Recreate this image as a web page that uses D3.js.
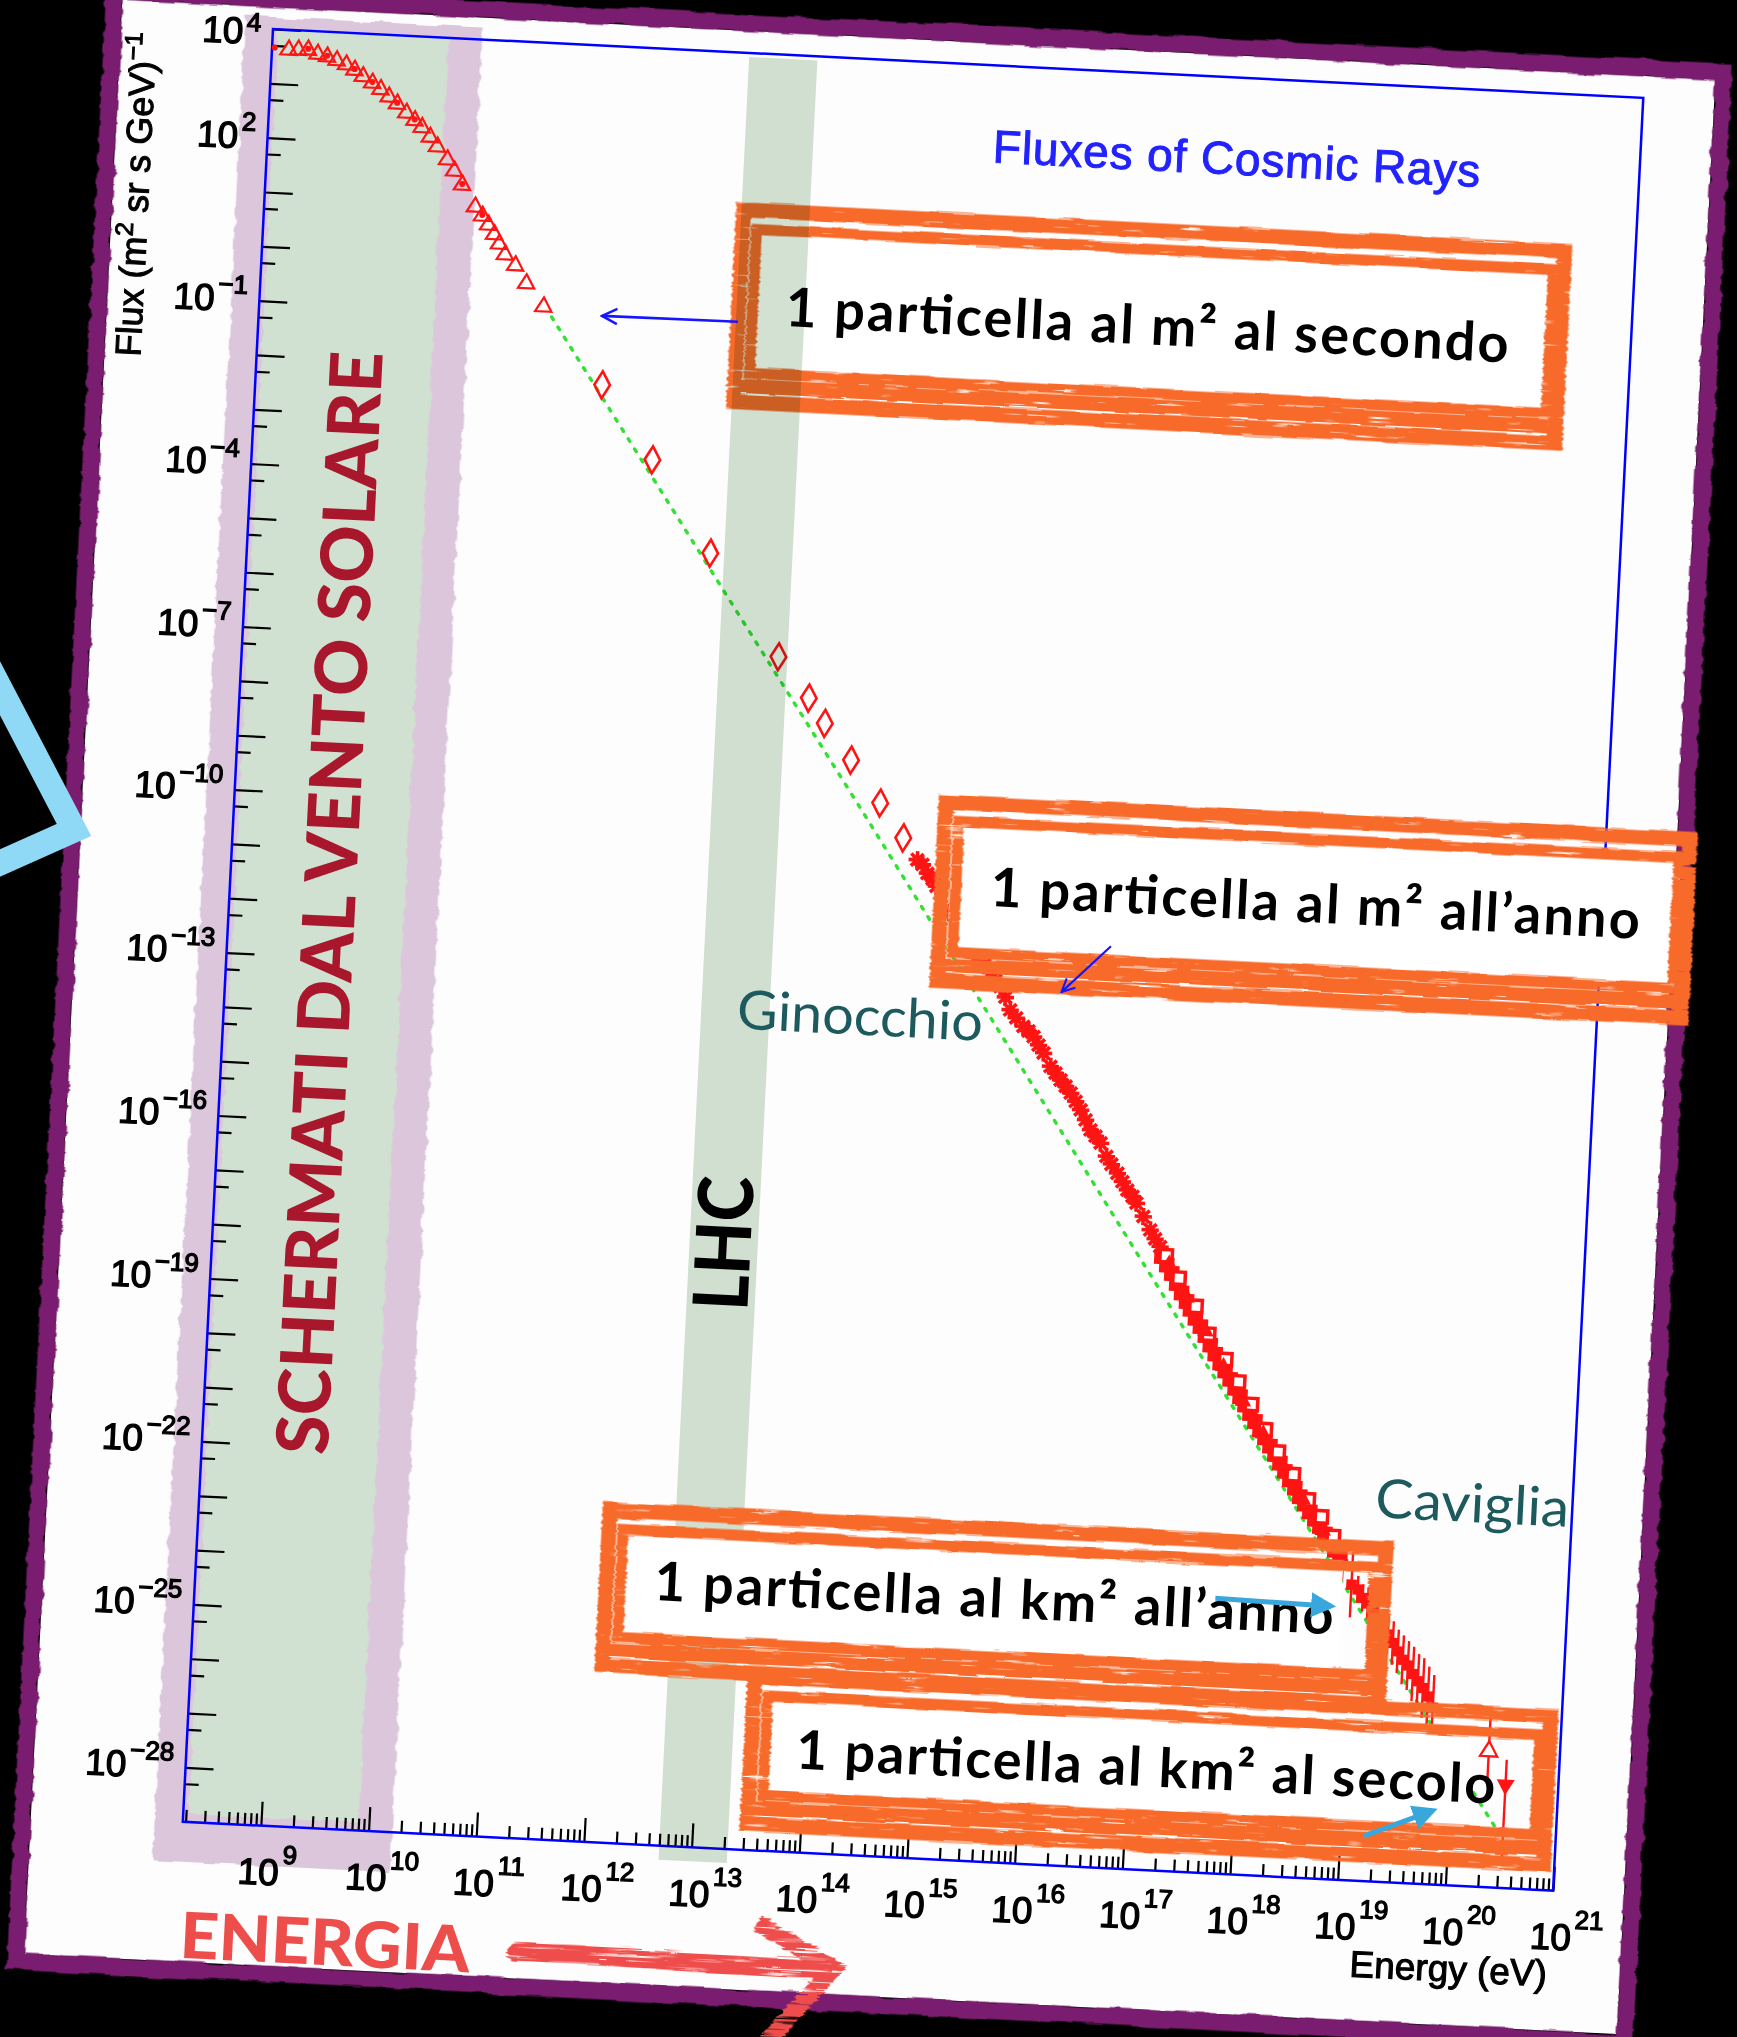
<!DOCTYPE html>
<html><head><meta charset="utf-8">
<script src="https://cdn.jsdelivr.net/npm/d3@7"></script>
<style>
html,body{margin:0;padding:0;background:#000;}
svg{display:block;}
</style></head><body>
<svg id="c" width="1737" height="2037"></svg>
<script>
// ================= DATA (log10 E [eV], log10 Flux) =================
const xDomain = [1.884e8, 1e21];
const yDomain = [1e-29, 1e4];
const yLabelExp = [4, 2, -1, -4, -7, -10, -13, -16, -19, -22, -25, -28];
const xLabelExp = [9, 10, 11, 12, 13, 14, 15, 16, 17, 18, 19, 20, 21];

const triangles = [[8.43,3.63],[8.52,3.64],[8.61,3.65],[8.70,3.58],[8.79,3.54],[8.88,3.48],[8.97,3.41],[9.05,3.32],[9.13,3.21],[9.22,3.10],[9.30,2.99],[9.38,2.86],[9.46,2.74],[9.55,2.58],[9.63,2.45],[9.70,2.33],[9.78,2.16],[9.85,1.99],[9.95,1.76],[10.02,1.56],[10.10,1.31],[10.23,0.92],[10.30,0.76],[10.36,0.60],[10.42,0.43],[10.47,0.26],[10.53,0.07],[10.63,-0.12],[10.74,-0.44],[10.91,-0.85]];
const triDots = [[8.30,3.66],[8.61,3.67],[8.79,3.56],[9.05,3.34],[9.22,3.12],[9.46,2.76],[9.63,2.47],[10.10,1.33],[10.30,0.78]];
const diamonds = [[11.49,-2.23],[11.99,-3.56],[12.57,-5.22],[13.25,-7.06],[13.55,-7.79],[13.71,-8.24],[13.97,-8.89],[14.26,-9.65],[14.49,-10.27]];
const stars = [[14.63,-10.66],[14.68,-10.74],[14.73,-10.90],[14.78,-11.00],[14.82,-11.13],[14.95,-11.60],[15.06,-11.97],[15.15,-12.20],[15.23,-12.38],[15.30,-12.52],[15.36,-12.67],[15.41,-12.80],[15.46,-12.91],[15.51,-13.10],[15.56,-13.33],[15.62,-13.47],[15.69,-13.62],[15.74,-13.70],[15.79,-13.80],[15.84,-13.95],[15.89,-14.09],[15.96,-14.33],[16.01,-14.45],[16.06,-14.57],[16.11,-14.68],[16.16,-14.80],[16.21,-14.95],[16.26,-15.10],[16.31,-15.28],[16.36,-15.46],[16.41,-15.57],[16.46,-15.69],[16.52,-15.93],[16.57,-16.07],[16.63,-16.23],[16.68,-16.38],[16.73,-16.53],[16.78,-16.64],[16.82,-16.76],[16.89,-17.00],[16.96,-17.24],[17.01,-17.40],[17.06,-17.54]];
const bandSquares = [[17.08,-17.72],[17.13,-17.87],[17.18,-18.02],[17.23,-18.20],[17.28,-18.37],[17.33,-18.52],[17.37,-18.66],[17.42,-18.82],[17.47,-18.97],[17.52,-19.13],[17.57,-19.30],[17.62,-19.46],[17.67,-19.62],[17.72,-19.76],[17.77,-19.91],[17.82,-20.07],[17.87,-20.22],[17.92,-20.37],[17.97,-20.52],[18.02,-20.66],[18.07,-20.81],[18.12,-20.95],[18.17,-21.10],[18.22,-21.25],[18.27,-21.40],[18.32,-21.55],[18.37,-21.70],[18.42,-21.85],[18.47,-22.00],[18.52,-22.13],[18.57,-22.27],[18.62,-22.40],[18.67,-22.53],[18.72,-22.66],[18.77,-22.80],[18.82,-22.95],[18.87,-23.10]];
const bandOpen = [[17.12,-17.70],[17.25,-18.10],[17.42,-18.60],[17.55,-19.10],[17.72,-19.55],[17.85,-19.95],[17.98,-20.35],[18.12,-20.80],[18.25,-21.20],[18.40,-21.60],[18.55,-22.05],[18.68,-22.35],[18.80,-22.70]];
const bandDots = [[17.15,-17.85],[17.33,-18.45],[17.52,-19.05],[17.70,-19.68],[17.90,-20.30],[18.10,-20.88],[18.30,-21.45],[18.50,-22.05],[18.70,-22.60]];
// [logE, logF, error (decades)]
const bandErr = [[18.90,-23.20,0.30],[18.99,-23.57,0.60],[19.05,-23.65,0.25],[19.10,-23.80,0.25],[19.15,-23.90,0.30],[19.20,-24.05,0.30],[19.25,-24.20,0.30],[19.30,-24.35,0.35],[19.35,-24.45,0.35],[19.40,-24.60,0.40],[19.45,-24.75,0.40],[19.50,-24.90,0.45],[19.55,-25.00,0.45],[19.60,-25.15,0.50],[19.65,-25.28,0.50],[19.70,-25.40,0.55],[19.75,-25.55,0.55],[19.80,-25.75,0.60]];
// [logE, logF, errUp, errDown]
const uheOpen = [[20.34,-26.50,0.80,0.50]];
const uheFilled = [[20.51,-27.10,0.46,1.40]];
const powerLaw = [[10.99,-1.03],[14.11,-9.85],[16.81,-17.57],[20.48,-28.02]];
const solarLavender = [1.03e8, 1.65e10];
const solarGreen = [2.1e8, 8.0e9];
const lhcBand = [5.0e12, 2.15e13];

// ================= SETUP =================
const ORANGE = '#f76b2b', RED = '#ff1414';
const svg = d3.select('#c');
const defs = svg.append('defs');
function mkFilter(id, freq, scale, seed, gapIntercept) {
  const f = defs.append('filter').attr('id', id).attr('filterUnits','userSpaceOnUse')
    .attr('x',-400).attr('y',-200).attr('width',2400).attr('height',2500);
  f.append('feTurbulence').attr('type','fractalNoise').attr('baseFrequency',freq)
    .attr('numOctaves',2).attr('seed',seed).attr('result','t');
  let src = 'SourceGraphic';
  if (gapIntercept) {
    f.append('feColorMatrix').attr('in','t').attr('type','matrix')
      .attr('values',`0 0 0 0 0  0 0 0 0 0  0 0 0 0 0  -7 0 0 0 ${gapIntercept}`).attr('result','m');
    f.append('feComposite').attr('in','SourceGraphic').attr('in2','m').attr('operator','in').attr('result','s');
    src = 's';
  }
  f.append('feDisplacementMap').attr('in',src).attr('in2','t').attr('scale',scale)
    .attr('xChannelSelector','R').attr('yChannelSelector','G');
}
mkFilter('rough', '0.03 0.09', 7, 4, 0);
mkFilter('brush', '0.012 0.45', 7, 7, 5.0);
mkFilter('frame', '0.02 0.3', 5, 11, 5.9);

svg.append('rect').attr('width',1737).attr('height',2037).attr('fill','#000');

const W = 1372, H = 1795;
const x = d3.scaleLog().domain(xDomain).range([0, W]);
const y = d3.scaleLog().domain(yDomain).range([H, 0]);
const px = e => x(Math.pow(10, e)), py = f => y(Math.pow(10, f));

const g = svg.append('g').attr('transform','translate(273,29) rotate(2.88)');

// paper
g.append('rect').attr('x',-152).attr('y',-22).attr('width',1595).attr('height',1957).attr('fill','#fdfdfd');
g.append('rect').attr('x',-160).attr('y',-30).attr('width',1611).attr('height',1973)
  .attr('fill','none').attr('stroke','#7a1e70').attr('stroke-width',17).attr('filter','url(#rough)');

// solar-wind band
const sb = g.append('g').attr('filter','url(#rough)');
sb.append('rect').attr('x', x(solarLavender[0])).attr('y',-12)
  .attr('width', x(solarLavender[1]) - x(solarLavender[0])).attr('height', H + 52).attr('fill','#dbc6db');
sb.append('rect').attr('x', x(solarGreen[0])).attr('y',0)
  .attr('width', x(solarGreen[1]) - x(solarGreen[0])).attr('height', H - 8).attr('fill','#d1e1d1');

// axes ticks (inward)
const yMajor = d3.range(-28, 5).map(n => Math.pow(10, n));
const yMinor = d3.range(-28, 5).map(n => 5 * Math.pow(10, n - 1));
const xMajor = d3.range(9, 22).map(n => Math.pow(10, n));
const xMinor = [];
for (let n = 8; n <= 20; n++) for (let k = 2; k <= 9; k++) { const v = k * Math.pow(10, n); if (v >= xDomain[0] && v <= xDomain[1]) xMinor.push(v); }
function styleAxis(s){ s.select('.domain').remove(); s.selectAll('line').attr('stroke','#000').attr('stroke-width',2.2); s.selectAll('text').remove(); }
g.append('g').call(d3.axisLeft(y).tickValues(yMajor).tickSize(-28).tickFormat('')).call(styleAxis);
g.append('g').call(d3.axisLeft(y).tickValues(yMinor).tickSize(-14).tickFormat('')).call(styleAxis);
g.append('g').attr('transform',`translate(0,${H})`).call(d3.axisBottom(x).tickValues(xMajor).tickSize(-24).tickFormat('')).call(styleAxis);
g.append('g').attr('transform',`translate(0,${H})`).call(d3.axisBottom(x).tickValues(xMinor).tickSize(-12).tickFormat('')).call(styleAxis);
g.append('rect').attr('width',W).attr('height',H).attr('fill','none').attr('stroke','#0000ff').attr('stroke-width',2.5);

// ================= DATA MARKS =================
const dg = g.append('g');
dg.append('path').datum(powerLaw)
  .attr('d', d3.line().x(d => px(d[0])).y(d => py(d[1])))
  .attr('fill','none').attr('stroke','#33e033').attr('stroke-width',3.4)
  .attr('stroke-dasharray','3 9').attr('stroke-linecap','round');

const tr = d => `translate(${px(d[0])},${py(d[1])})`;
dg.selectAll('.tri').data(triangles).join('path').attr('transform', tr)
  .attr('d', d3.symbol(d3.symbolTriangle, 115)).attr('fill','none').attr('stroke',RED).attr('stroke-width',2.2);
dg.selectAll('.tdot').data(triDots).join('circle').attr('cx', d => px(d[0])).attr('cy', d => py(d[1])).attr('r',3).attr('fill',RED);
dg.selectAll('.dia').data(diamonds).join('path').attr('transform', tr)
  .attr('d', d3.symbol(d3.symbolDiamond, 210)).attr('fill','none').attr('stroke',RED).attr('stroke-width',2.6);

const asterisk = { draw(ctx, size) { const r = Math.sqrt(size) / 2;
  for (let k = 0; k < 4; k++) { const a = k * Math.PI / 4; ctx.moveTo(r*Math.cos(a), r*Math.sin(a)); ctx.lineTo(-r*Math.cos(a), -r*Math.sin(a)); } } };
dg.selectAll('.star').data(stars).join('path').attr('transform', tr)
  .attr('d', d3.symbol(asterisk, 300)).attr('fill','none').attr('stroke',RED).attr('stroke-width',3.6);
dg.selectAll('.star2').data(stars).join('circle').attr('cx', d => px(d[0])).attr('cy', d => py(d[1])).attr('r',4.5).attr('fill',RED);

dg.selectAll('.bsq').data(bandSquares).join('path').attr('transform', tr)
  .attr('d', d3.symbol(d3.symbolSquare, 230)).attr('fill',RED);
dg.selectAll('.bop').data(bandOpen).join('path').attr('transform', tr)
  .attr('d', d3.symbol(d3.symbolSquare, 150)).attr('fill','#fff').attr('stroke',RED).attr('stroke-width',3.5);
dg.selectAll('.bdot').data(bandDots).join('path').attr('transform', tr)
  .attr('d', d3.symbol(d3.symbolTriangle, 120)).attr('fill',RED);

dg.selectAll('.berr').data(bandErr).join('line')
  .attr('x1', d => px(d[0])).attr('x2', d => px(d[0]))
  .attr('y1', d => py(d[1] + d[2])).attr('y2', d => py(d[1] - d[2]))
  .attr('stroke',RED).attr('stroke-width',2.4);
dg.selectAll('.bem').data(bandErr).join('path').attr('transform', tr)
  .attr('d', d3.symbol(d3.symbolSquare, 110)).attr('fill',RED);

const uhe = uheOpen.concat(uheFilled);
dg.selectAll('.uerr').data(uhe).join('line')
  .attr('x1', d => px(d[0])).attr('x2', d => px(d[0]))
  .attr('y1', d => py(d[1] + d[2])).attr('y2', d => py(d[1] - d[3]))
  .attr('stroke',RED).attr('stroke-width',2.4);
dg.selectAll('.uo').data(uheOpen).join('path').attr('transform', tr)
  .attr('d', d3.symbol(d3.symbolTriangle, 130)).attr('fill','#fff').attr('stroke',RED).attr('stroke-width',2.2);
dg.selectAll('.uf').data(uheFilled).join('path').attr('transform', d => tr(d) + ' rotate(180)')
  .attr('d', d3.symbol(d3.symbolTriangle, 140)).attr('fill',RED);

// ================= ANNOTATION BOXES =================
function box(parent, b, fillTo) {
  const [x0, y0, x1, y1] = b;
  parent.append('rect').attr('x', x0 + 16).attr('y', y0 + 22)
    .attr('width', (fillTo || x1 - 16) - (x0 + 16)).attr('height', y1 - y0 - 60).attr('fill','#fff');
  const fr = parent.append('g').attr('filter','url(#frame)');
  fr.append('rect').attr('x', x0 + 8).attr('y', y0 + 8).attr('width', x1 - x0 - 16).attr('height', y1 - y0 - 16)
    .attr('fill','none').attr('stroke',ORANGE).attr('stroke-width',15);
  fr.append('rect').attr('x', x0 + 22).attr('y', y0 + 27).attr('width', x1 - x0 - 40).attr('height', y1 - y0 - 64)
    .attr('fill','none').attr('stroke',ORANGE).attr('stroke-width',11);
  fr.append('line').attr('x1', x0 + 6).attr('x2', x1 - 6).attr('y1', y1 - 24).attr('y2', y1 - 24)
    .attr('stroke',ORANGE).attr('stroke-width',14);
}
const boxesLow = g.append('g');
box(boxesLow, [471, 149, 1309, 357]);
box(boxesLow, [703, 730, 1464, 925]);

g.append('rect').attr('x', x(lhcBand[0])).attr('y', 4)
  .attr('width', x(lhcBand[1]) - x(lhcBand[0])).attr('height', H + 10)
  .attr('fill','#d2e1d2').style('mix-blend-mode','multiply');

const boxesHigh = g.append('g');
box(boxesHigh, [403, 1454, 1196, 1626], 1146);
box(boxesHigh, [556, 1613, 1369, 1777], 1283);

// ================= TEXT =================
function boxText(txt, cx, base, len) {
  g.append('text').attr('x', cx).attr('y', base).attr('text-anchor','middle')
    .attr('font-family','Lato, "Open Sans", sans-serif').attr('font-weight',700).attr('font-size',54)
    .attr('fill','#000').attr('textLength', len).attr('lengthAdjust','spacing').text(txt);
}
boxText('1 particella al m² al secondo', 888, 271, 724);
boxText('1 particella al m² all’anno', 1085, 840, 650);
boxText('1 particella al km² all’anno', 799, 1550, 680);
boxText('1 particella al km² al secolo', 959, 1711, 700);

g.append('text').attr('transform','translate(126,870) rotate(-90)').attr('text-anchor','middle')
  .attr('font-family','Lato, sans-serif').attr('font-weight',900).attr('font-size',72)
  .attr('fill','#a8172b').attr('textLength',1104).attr('lengthAdjust','spacingAndGlyphs').text('SCHERMATI DAL VENTO SOLARE');
g.append('text').attr('transform','translate(538,1190) rotate(-90)').attr('text-anchor','middle')
  .attr('font-family','Lato, sans-serif').attr('font-weight',900).attr('font-size',76)
  .attr('fill','#000').attr('textLength',134).attr('lengthAdjust','spacingAndGlyphs').text('LHC');

g.append('text').attr('x',636).attr('y',975).attr('text-anchor','middle')
  .attr('font-family','Lato, sans-serif').attr('font-size',54).attr('fill','#1d5a5e')
  .attr('textLength',246).attr('lengthAdjust','spacingAndGlyphs').text('Ginocchio');
g.append('text').attr('x',1272).attr('y',1431).attr('text-anchor','middle')
  .attr('font-family','Lato, sans-serif').attr('font-size',54).attr('fill','#1d5a5e')
  .attr('textLength',194).attr('lengthAdjust','spacingAndGlyphs').text('Caviglia');

g.append('text').attr('x',969).attr('y',97).attr('text-anchor','middle')
  .attr('font-family','"Liberation Sans", Arial, sans-serif').attr('font-size',46)
  .attr('fill','#2222ff').attr('stroke','#2222ff').attr('stroke-width',1)
  .attr('textLength',488).attr('lengthAdjust','spacing').text('Fluxes of Cosmic Rays');

const LBL = '"Liberation Sans", Arial, sans-serif';
yLabelExp.forEach(n => {
  const top = n === 4;
  const t = g.append('text').attr('x', -12).attr('y', py(n) + (top ? 16 : 12)).attr('text-anchor','end')
    .attr('font-family', LBL).attr('font-size',37).attr('fill','#000').attr('stroke','#000').attr('stroke-width',1.3);
  t.append('tspan').text('10');
  t.append('tspan').attr('dx',3).attr('dy', top ? -13 : -18).attr('font-size',26).text(n < 0 ? '−' + (-n) : String(n));
});
xLabelExp.forEach(n => {
  const t = g.append('text').attr('x', px(n) - 21).attr('y', H + 59)
    .attr('font-family', LBL).attr('font-size',37).attr('fill','#000').attr('stroke','#000').attr('stroke-width',1.3);
  t.append('tspan').text('10');
  t.append('tspan').attr('dx',3).attr('dy',-22).attr('font-size',26).text(String(n));
});

const yt = g.append('text').attr('transform','translate(-116,172) rotate(-90)').attr('text-anchor','middle')
  .attr('font-family', LBL).attr('font-size',36).attr('fill','#000').attr('stroke','#000').attr('stroke-width',1);
yt.append('tspan').text('Flux (m');
yt.append('tspan').attr('dy',-14).attr('font-size',25).text('2');
yt.append('tspan').attr('dy',14).text(' sr s GeV)');
yt.append('tspan').attr('dy',-14).attr('font-size',25).text('−1');

g.append('text').attr('x',1370).attr('y',1891).attr('text-anchor','end')
  .attr('font-family', LBL).attr('font-size',37).attr('fill','#000').attr('stroke','#000').attr('stroke-width',1.1)
  .text('Energy (eV)');

g.append('text').attr('x',148).attr('y',1931).attr('text-anchor','middle')
  .attr('font-family','Lato, sans-serif').attr('font-weight',900).attr('font-size',64)
  .attr('fill','#ee4e4b').attr('textLength',290).attr('lengthAdjust','spacingAndGlyphs').text('ENERGIA');

// ================= ARROWS =================
const mk1 = defs.append('marker').attr('id','lb').attr('viewBox','0 0 10 10').attr('refX',8).attr('refY',5)
  .attr('markerWidth',5).attr('markerHeight',5).attr('orient','auto').attr('markerUnits','strokeWidth');
mk1.append('path').attr('d','M0,0 L10,5 L0,10 Z').attr('fill','#38a7dc');
const mk2 = defs.append('marker').attr('id','db').attr('viewBox','0 0 12 12').attr('refX',11).attr('refY',6)
  .attr('markerWidth',7).attr('markerHeight',7).attr('orient','auto').attr('markerUnits','strokeWidth');
mk2.append('path').attr('d','M1,1 L11,6 L1,11').attr('fill','none').attr('stroke','#1515ff').attr('stroke-width',1.6);

function arrow(x1, y1, x2, y2, col, w, m) {
  g.append('line').attr('x1',x1).attr('y1',y1).attr('x2',x2).attr('y2',y2)
    .attr('stroke',col).attr('stroke-width',w).attr('marker-end',`url(#${m})`);
}
arrow(479, 269, 343, 270, '#1515ff', 2.6, 'db');
arrow(883, 874, 836, 922, '#1515ff', 2.2, 'db');
arrow(1020, 1520, 1136, 1522, '#38a7dc', 5, 'lb');
arrow(1180, 1750, 1248, 1721, '#38a7dc', 5, 'lb');

const ra = g.append('g').attr('filter','url(#brush)');
ra.append('path').attr('d','M340,1909 C450,1905 560,1914 650,1910').attr('fill','none')
  .attr('stroke','#ee4e4b').attr('stroke-width',19).attr('stroke-linecap','round');
ra.append('path').attr('d','M579,1867 L657,1909 L594,1985').attr('fill','none')
  .attr('stroke','#ee4e4b').attr('stroke-width',17).attr('stroke-linejoin','miter');

// light-blue chevron outside the sheet (left edge)
svg.append('polyline').attr('points','-20,650 74,830 -20,872').attr('fill','none')
  .attr('stroke','#8fd8f6').attr('stroke-width',25).attr('stroke-linejoin','miter');
</script></body></html>
